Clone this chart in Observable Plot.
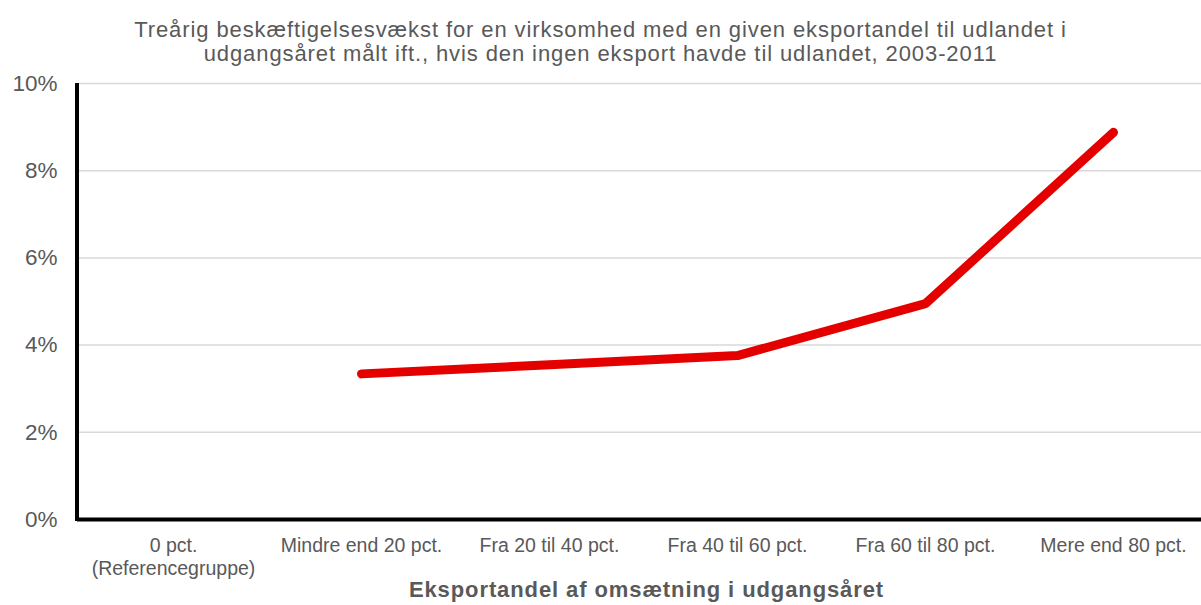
<!DOCTYPE html>
<html>
<head>
<meta charset="utf-8">
<script src="https://cdn.jsdelivr.net/npm/d3@7"></script>
<script src="https://cdn.jsdelivr.net/npm/@observablehq/plot@0.6"></script>
<style>
  html, body { margin: 0; padding: 0; background: #fff; overflow: hidden; width: 1201px; height: 605px; }
  body { font-family: "Liberation Sans", Arial, sans-serif; color: #595959; position: relative; }
  #title { width: 1201px; text-align: center; font-size: 22px; letter-spacing: 0.9px; line-height: 24px; padding-top: 18px; height: 46px; white-space: nowrap; }
  #xlabel { position: absolute; left: 77px; width: 1139px; top: 578px; text-align: center; font-size: 22px; letter-spacing: 0.9px; font-weight: bold; line-height: 24px; z-index: 2; }
  #chart { width: 1208px; }
  #chart svg { display: block; max-width: none !important; }
</style>
</head>
<body>
<div id="title">Treårig beskæftigelsesvækst for en virksomhed med en given eksportandel til udlandet i<br>udgangsåret målt ift., hvis den ingen eksport havde til udlandet, 2003-2011</div>
<div id="chart"></div>
<div id="xlabel">Eksportandel af omsætning i udgangsåret</div>
<script>
const categories = ["0 pct.\n(Referencegruppe)", "Mindre end 20 pct.", "Fra 20 til 40 pct.", "Fra 40 til 60 pct.", "Fra 60 til 80 pct.", "Mere end 80 pct."];
const values = [null, 3.34, 3.55, 3.76, 4.95, 8.88];
const yTicks = [0, 2, 4, 6, 8, 10];

const data = categories.map((c, i) => ({cat: c, value: values[i]}));

const chart = Plot.plot({
  width: 1208,
  height: 541,
  marginLeft: 77,
  marginRight: 0,
  marginTop: 19,
  marginBottom: 86,
  style: {fontFamily: "Liberation Sans, Arial, sans-serif", color: "#595959", background: "#fff", maxWidth: "none"},
  x: {type: "point", domain: categories, padding: 0.5, label: null},
  y: {domain: [0, 10], label: null},
  marks: [
    Plot.gridY(yTicks, {stroke: "#d9d9d9", strokeOpacity: 1, strokeWidth: 1.5}),
    Plot.axisY({ticks: yTicks, tickSize: 0, tickPadding: 20, tickFormat: d => d + "%", fontSize: 22.5, fill: "#595959", label: null}),
    Plot.axisX({tickSize: 0, tickPadding: 16, fontSize: 19.5, fill: "#595959", label: null, lineHeight: 1.18}),
    Plot.ruleY([0], {stroke: "#000", strokeWidth: 4}),
    Plot.line(data.filter(d => d.value != null), {x: "cat", y: "value", stroke: "#e50000", strokeWidth: 9, strokeLinecap: "round", strokeLinejoin: "round"})
  ]
});
document.getElementById("chart").appendChild(chart);

// left axis line (frame edge)
const svg = d3.select(chart);
svg.append("line")
  .attr("x1", 77).attr("x2", 77)
  .attr("y1", 19).attr("y2", 541 - 86 + 2)
  .attr("stroke", "#000").attr("stroke-width", 4);
</script>
</body>
</html>
